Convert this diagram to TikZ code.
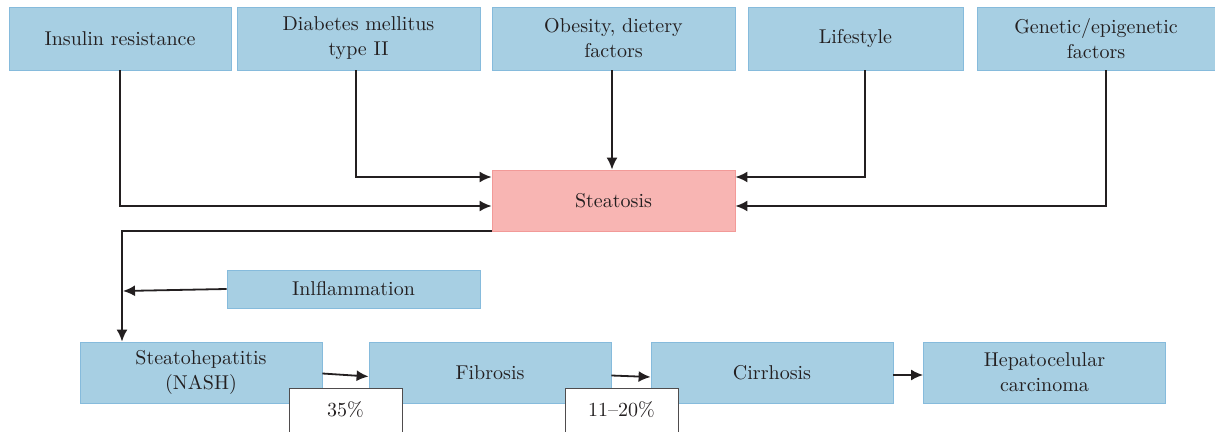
\documentclass[tikz,border=0pt]{standalone}
\usepackage{tikz}
\usetikzlibrary{arrows.meta,positioning}
\definecolor{boxblue}{HTML}{A7CFE3}
\definecolor{boxedge}{HTML}{86BBDC}
\definecolor{steafill}{HTML}{F8B5B3}
\definecolor{steaedge}{HTML}{F29A98}
\definecolor{ink}{HTML}{231F20}

\begin{document}
\begin{tikzpicture}[x=0.5pt, y=-0.5pt, inner sep=0pt, font=\fontsize{10}{12.5}\selectfont]
    \tikzstyle{cause}=[rectangle, fill=boxblue, draw=boxedge, text=ink, minimum height=31.5pt, align=center]
    \tikzstyle{stage}=[cause, minimum width=121pt, minimum height=30.5pt]
    \tikzstyle{hub}=[rectangle, fill=steafill, draw=steaedge, text=ink, minimum width=121.5pt, minimum height=30.5pt]
    \tikzstyle{pct}=[rectangle, fill=white, draw=ink!80, text=ink, minimum width=56.5pt, minimum height=22pt]
    \tikzstyle{link}=[-{Latex[length=6pt,width=5.5pt]}, draw=ink, line width=0.9pt]

    \useasboundingbox (0,0) rectangle (1215,432);

    % risk factors
    \node[cause, minimum width=111pt] (insulin) at (120,38.5) {Insulin resistance};
    \node[cause, minimum width=121.5pt] (diabetes) at (358.5,38.5) {Diabetes mellitus\\type II};
    \node[cause, minimum width=121.5pt] (obesity) at (613.5,38.5) {Obesity, dietery\\factors};
    \node[cause, minimum width=107.5pt] (lifestyle) at (855.5,38.5) {Lifestyle};
    \node[cause, minimum width=119pt] (genetic) at (1096,38.5) {Genetic/epigenetic\\factors};

    \node[hub] (steatosis) at (613.5,200.5) {Steatosis};
    \node[cause, minimum width=126.5pt, minimum height=19pt] (inflam) at (353.5,289) {Inlflammation};

    % disease stages
    \node[stage] (nash) at (201,372.5) {Steatohepatitis\\(NASH)};
    \node[stage] (fibrosis) at (490,372.5) {Fibrosis};
    \node[stage] (cirrhosis) at (772,372.5) {Cirrhosis};
    \node[stage] (hcc) at (1044.5,372.5) {Hepatocelular\\carcinoma};

    \draw[link] (insulin.south) |- ([yshift=-2.75pt]steatosis.west);
    \draw[link] ([xshift=-1.25pt]diabetes.south) |- ([yshift=11.75pt]steatosis.west);
    \draw[link] ([xshift=-0.75pt]obesity.south) -- ([xshift=-0.75pt]steatosis.north);
    \draw[link] ([xshift=4.75pt]lifestyle.south) |- ([yshift=11.75pt]steatosis.east);
    \draw[link] ([xshift=5pt]genetic.south) |- ([yshift=-2.75pt]steatosis.east);

    \draw[link] (steatosis.south west) -| ([xshift=-39.5pt]nash.north);
    \coordinate (join) at (123,291);
    \draw[link] (inflam.west) -- (join);

    \draw[link] ([yshift=-0.5pt]nash.east) -- ([yshift=-2pt]fibrosis.west);
    \draw[link] ([yshift=-1.5pt]fibrosis.east) -- ([yshift=-2.25pt]cirrhosis.west);
    \draw[link] ([yshift=-1.25pt]cirrhosis.east) -- ([yshift=-1.25pt]hcc.west);

    \node[pct] (p35) at (345.5,410) {35\%};
    \node[pct] (p11) at (621.5,410) {11--20\%};
\end{tikzpicture}
\end{document}
